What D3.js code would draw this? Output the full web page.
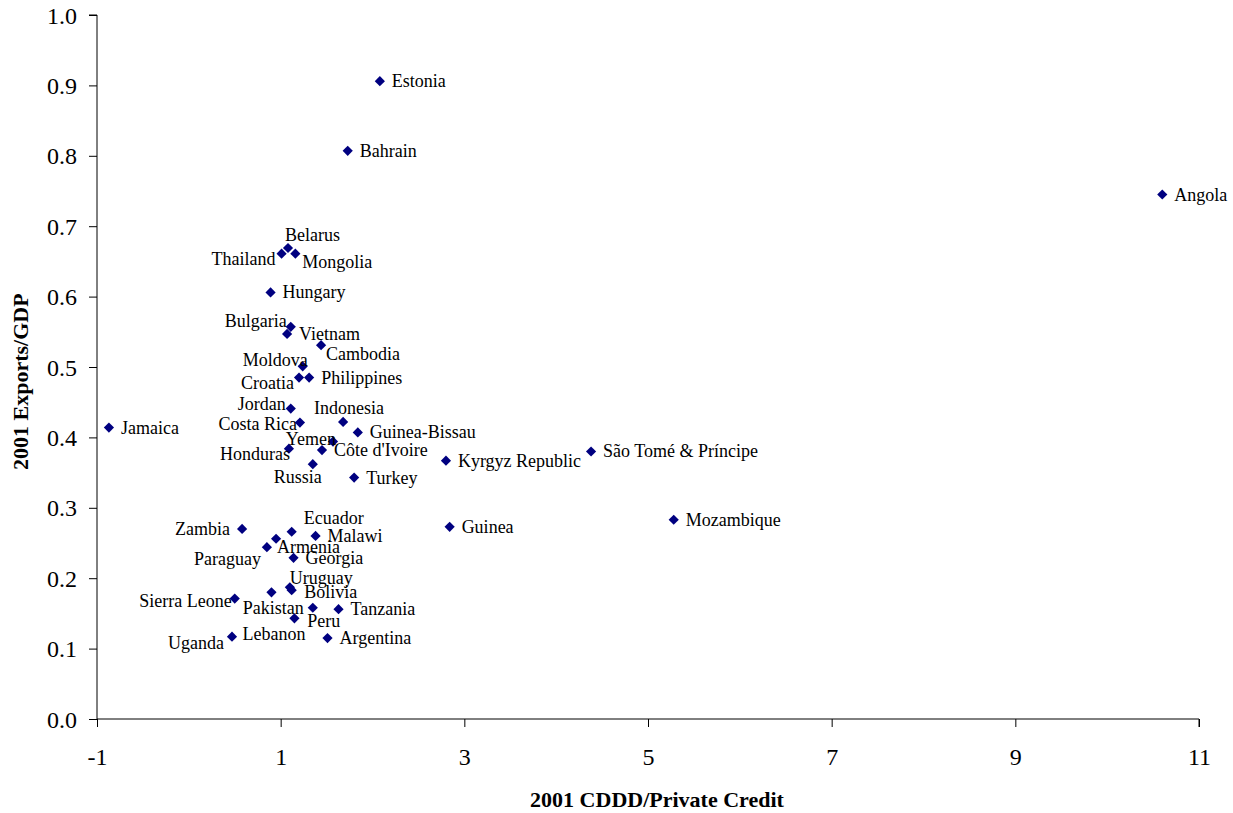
<!DOCTYPE html>
<html>
<head>
<meta charset="utf-8">
<script src="https://cdn.jsdelivr.net/npm/d3@7"></script>
<style>
  html, body { margin: 0; padding: 0; background: #fff; }
  svg { display: block; }
</style>
</head>
<body>
<svg id="chart" width="1233" height="813"></svg>
<script>
// ---- data ----
const countries = ["Estonia","Bahrain","Angola","Belarus","Thailand","Mongolia","Hungary","Bulgaria","Vietnam","Cambodia",
  "Moldova","Croatia","Philippines","Jordan","Costa Rica","Indonesia","Guinea-Bissau","Yemen","Côte d'Ivoire","Honduras",
  "Russia","Turkey","Jamaica","Kyrgyz Republic","São Tomé & Príncipe","Mozambique","Guinea","Zambia","Ecuador","Malawi",
  "Armenia","Paraguay","Georgia","Uruguay","Bolivia","Lebanon","Sierra Leone","Pakistan","Tanzania","Peru","Uganda","Argentina"];
const cdddPrivateCredit = [2.08,1.73,10.60,1.08,1.01,1.16,0.89,1.11,1.07,1.44,
  1.24,1.20,1.31,1.11,1.21,1.68,1.84,1.57,1.45,1.09,
  1.35,1.80,-0.87,2.80,4.38,5.28,2.84,0.58,1.12,1.38,
  0.95,0.85,1.14,1.10,1.12,0.90,0.50,1.35,1.63,1.15,0.47,1.51];
const exportsGdp = [0.906,0.807,0.745,0.669,0.661,0.661,0.606,0.557,0.547,0.531,
  0.501,0.485,0.485,0.441,0.421,0.422,0.407,0.394,0.382,0.384,
  0.362,0.343,0.414,0.367,0.380,0.283,0.273,0.270,0.266,0.260,
  0.256,0.244,0.229,0.187,0.183,0.180,0.171,0.158,0.156,0.143,0.117,0.115];
const xTicks = [-1,1,3,5,7,9,11];
const yTicks = [0,0.1,0.2,0.3,0.4,0.5,0.6,0.7,0.8,0.9,1.0];
const xTitle = "2001 CDDD/Private Credit";
const yTitle = "2001 Exports/GDP";

// label placement (anchor, dx, dy) — styling only
const labelPlacement = {
  "Belarus":["start",-3,-13], "Thailand":["end",-6,5], "Mongolia":["start",7,8],
  "Bulgaria":["end",-4,-6], "Cambodia":["start",5,8.5], "Moldova":["end",5,-6],
  "Croatia":["end",-5,5], "Jordan":["end",-5,-4.5], "Indonesia":["start",-29,-13.5],
  "Costa Rica":["end",-3,1], "Yemen":["end",3,-3], "Honduras":["end",1,5],
  "Russia":["end",9,13], "Zambia":["end",-12,0], "Ecuador":["start",12,-14],
  "Armenia":["start",1,8.5], "Paraguay":["end",-6,11.5], "Uruguay":["start",0,-9],
  "Bolivia":["start",12.6,2], "Sierra Leone":["end",-3,2], "Pakistan":["end",-9,0],
  "Peru":["start",12.7,3], "Lebanon":["start",-29,41.5], "Uganda":["end",-8,6]
};
const defaultPlacement = ["start",12,0];

const data = countries.map((c,i)=>({name:c, x:cdddPrivateCredit[i], y:exportsGdp[i]}));

// ---- layout ----
const svg = d3.select("#chart");
const plotL = 97, plotR = 1199, plotT = 15, plotB = 719;
const x = d3.scaleLinear().domain([-1,11]).range([plotL,plotR]);
const y = d3.scaleLinear().domain([0,1]).range([plotB,plotT]);
const serif = "'Liberation Serif','Times New Roman',Times,serif";

// y axis
const yAxis = d3.axisLeft(y).tickValues(yTicks).tickSize(8).tickPadding(12).tickFormat(d => d.toFixed(1));
const gy = svg.append("g").attr("transform",`translate(${plotL},0)`).call(yAxis);
gy.select(".domain").attr("stroke","#000").attr("d",`M-8,${plotT}H0V${plotB}`);
gy.selectAll(".tick line").attr("stroke","#000");
gy.selectAll(".tick text").attr("font-family",serif).attr("font-size",24).attr("fill","#000").attr("dy","0.34em");

// x axis
const xAxis = d3.axisBottom(x).tickValues(xTicks).tickSize(8).tickPadding(21).tickFormat(d => String(d));
const gx = svg.append("g").attr("transform",`translate(0,${plotB})`).call(xAxis);
gx.select(".domain").attr("stroke","#000").attr("d",`M${plotL},0H${plotR}V8`);
gx.selectAll(".tick line").attr("stroke","#000");
gx.selectAll(".tick text").attr("font-family",serif).attr("font-size",24).attr("fill","#000");

// titles
svg.append("text").attr("x",(plotL+plotR)/2 + 9).attr("y",807).attr("text-anchor","middle")
  .attr("font-family",serif).attr("font-weight","bold").attr("font-size",22).text(xTitle);
svg.append("text").attr("transform","translate(28,470) rotate(-90)").attr("text-anchor","start")
  .attr("font-family",serif).attr("font-weight","bold").attr("font-size",22).text(yTitle);

// points
const diamond = d3.symbol().type(d3.symbolSquare).size(52);
svg.append("g").selectAll("path").data(data).join("path")
  .attr("d",diamond)
  .attr("transform",d=>`translate(${x(d.x)},${y(d.y)}) rotate(45)`)
  .attr("fill","#000080");

// labels
svg.append("g").selectAll("text").data(data).join("text")
  .each(function(d){
    const p = labelPlacement[d.name] || defaultPlacement;
    d3.select(this).attr("text-anchor",p[0])
      .attr("x",x(d.x)+p[1]).attr("y",y(d.y)+p[2]+6);
  })
  .attr("font-family",serif).attr("font-size",18).attr("fill","#000")
  .text(d=>d.name);
</script>
</body>
</html>
